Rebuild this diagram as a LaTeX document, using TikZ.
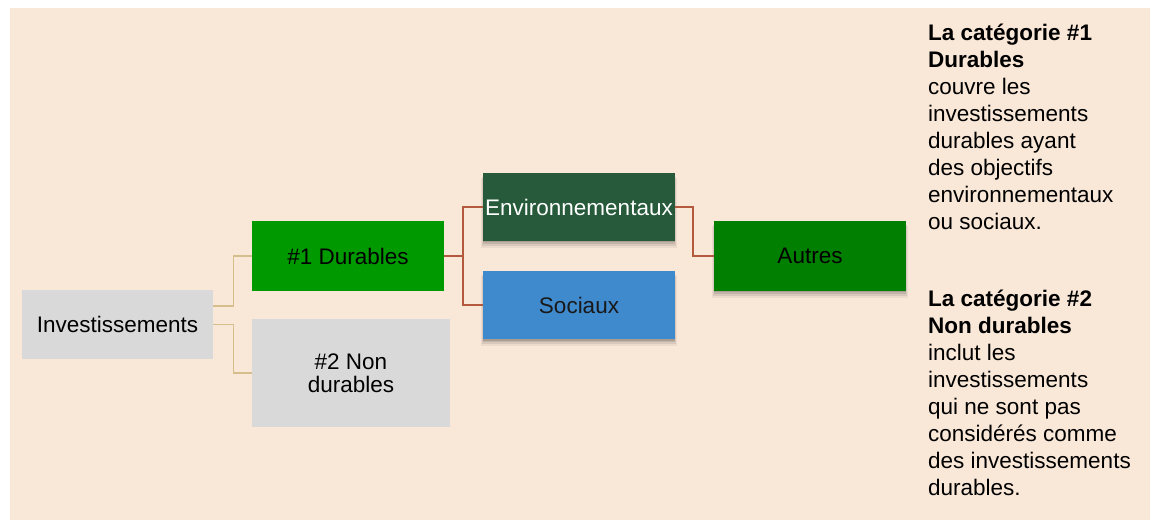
\documentclass[tikz,border=0pt]{standalone}
\usepackage{fontspec}
\setmainfont{Liberation Sans}
\usetikzlibrary{shadows}
\definecolor{bgbeige}{HTML}{F9E7D7}
\definecolor{boxgray}{HTML}{D9D9D9}
\definecolor{durgreen}{HTML}{009900}
\definecolor{envgreen}{HTML}{265A3A}
\definecolor{socblue}{HTML}{3F8ACD}
\definecolor{autgreen}{HTML}{007F00}
\definecolor{tanline}{HTML}{D6BE8C}
\definecolor{brownline}{HTML}{B45A3C}
\tikzset{
  box/.style={rectangle, inner sep=0pt, align=center, font=\fontsize{22.5}{23}\selectfont},
  shad/.style={
    drop shadow={shadow xshift=0pt, shadow yshift=-6pt, shadow scale=1.02, opacity=0.05, fill=black},
    drop shadow={shadow xshift=0pt, shadow yshift=-4.5pt, shadow scale=1.01, opacity=0.08, fill=black},
    drop shadow={shadow xshift=0pt, shadow yshift=-3pt, opacity=0.10, fill=black},
    drop shadow={shadow xshift=0pt, shadow yshift=-1.5pt, opacity=0.12, fill=black}},
  lvl1/.style={draw=tanline, line width=1.2pt},
  lvl2/.style={draw=brownline, line width=2.2pt},
  note/.style={anchor=north west, inner sep=0pt, align=left, font=\fontsize{22.5}{27}\selectfont}
}
\begin{document}
\begin{tikzpicture}[x=1pt,y=-1pt]
\useasboundingbox (0,0) rectangle (1151,521);
\fill[bgbeige] (10,8) rectangle (1150,520);
\node[box, fill=boxgray, minimum width=191pt, minimum height=69pt] (inv) at (117.5,324.5) {Investissements};
\node[box, fill=durgreen, minimum width=192pt, minimum height=70pt] (d1) at (348,256) {\#1 Durables};
\node[box, fill=boxgray, minimum width=198pt, minimum height=108pt] (d2) at (351,373) {\#2 Non\\durables};
\node[box, shad, fill=envgreen, text=white, minimum width=192pt, minimum height=68pt] (env) at (579,207) {Environnementaux};
\node[box, shad, fill=socblue, text=black!90, minimum width=192pt, minimum height=68pt] (soc) at (579,305) {Sociaux};
\node[box, shad, fill=autgreen, minimum width=192pt, minimum height=70pt] (aut) at (810,256) {Autres};
\draw[lvl1] ([yshift=18.5pt]inv.east) -- ++(20,0) |- (d1.west);
\draw[lvl1] (inv.east) -- ++(20,0) |- (d2.west);
\draw[lvl2] (d1.east) -- ++(19,0) |- (env.west);
\draw[lvl2] (d1.east) -- ++(19,0) |- (soc.west);
\draw[lvl2] (env.east) -- ++(18,0) |- (aut.west);
\node[note] (n1) at (928,24) {\textbf{La catégorie \#1}\\\textbf{Durables}\\couvre les\\investissements\\durables ayant\\des objectifs\\environnementaux\\ou sociaux.};
\node[note] (n2) at (928,290) {\textbf{La catégorie \#2}\\\textbf{Non durables}\\inclut les\\investissements\\qui ne sont pas\\considérés comme\\des investissements\\durables.};
\end{tikzpicture}
\end{document}
